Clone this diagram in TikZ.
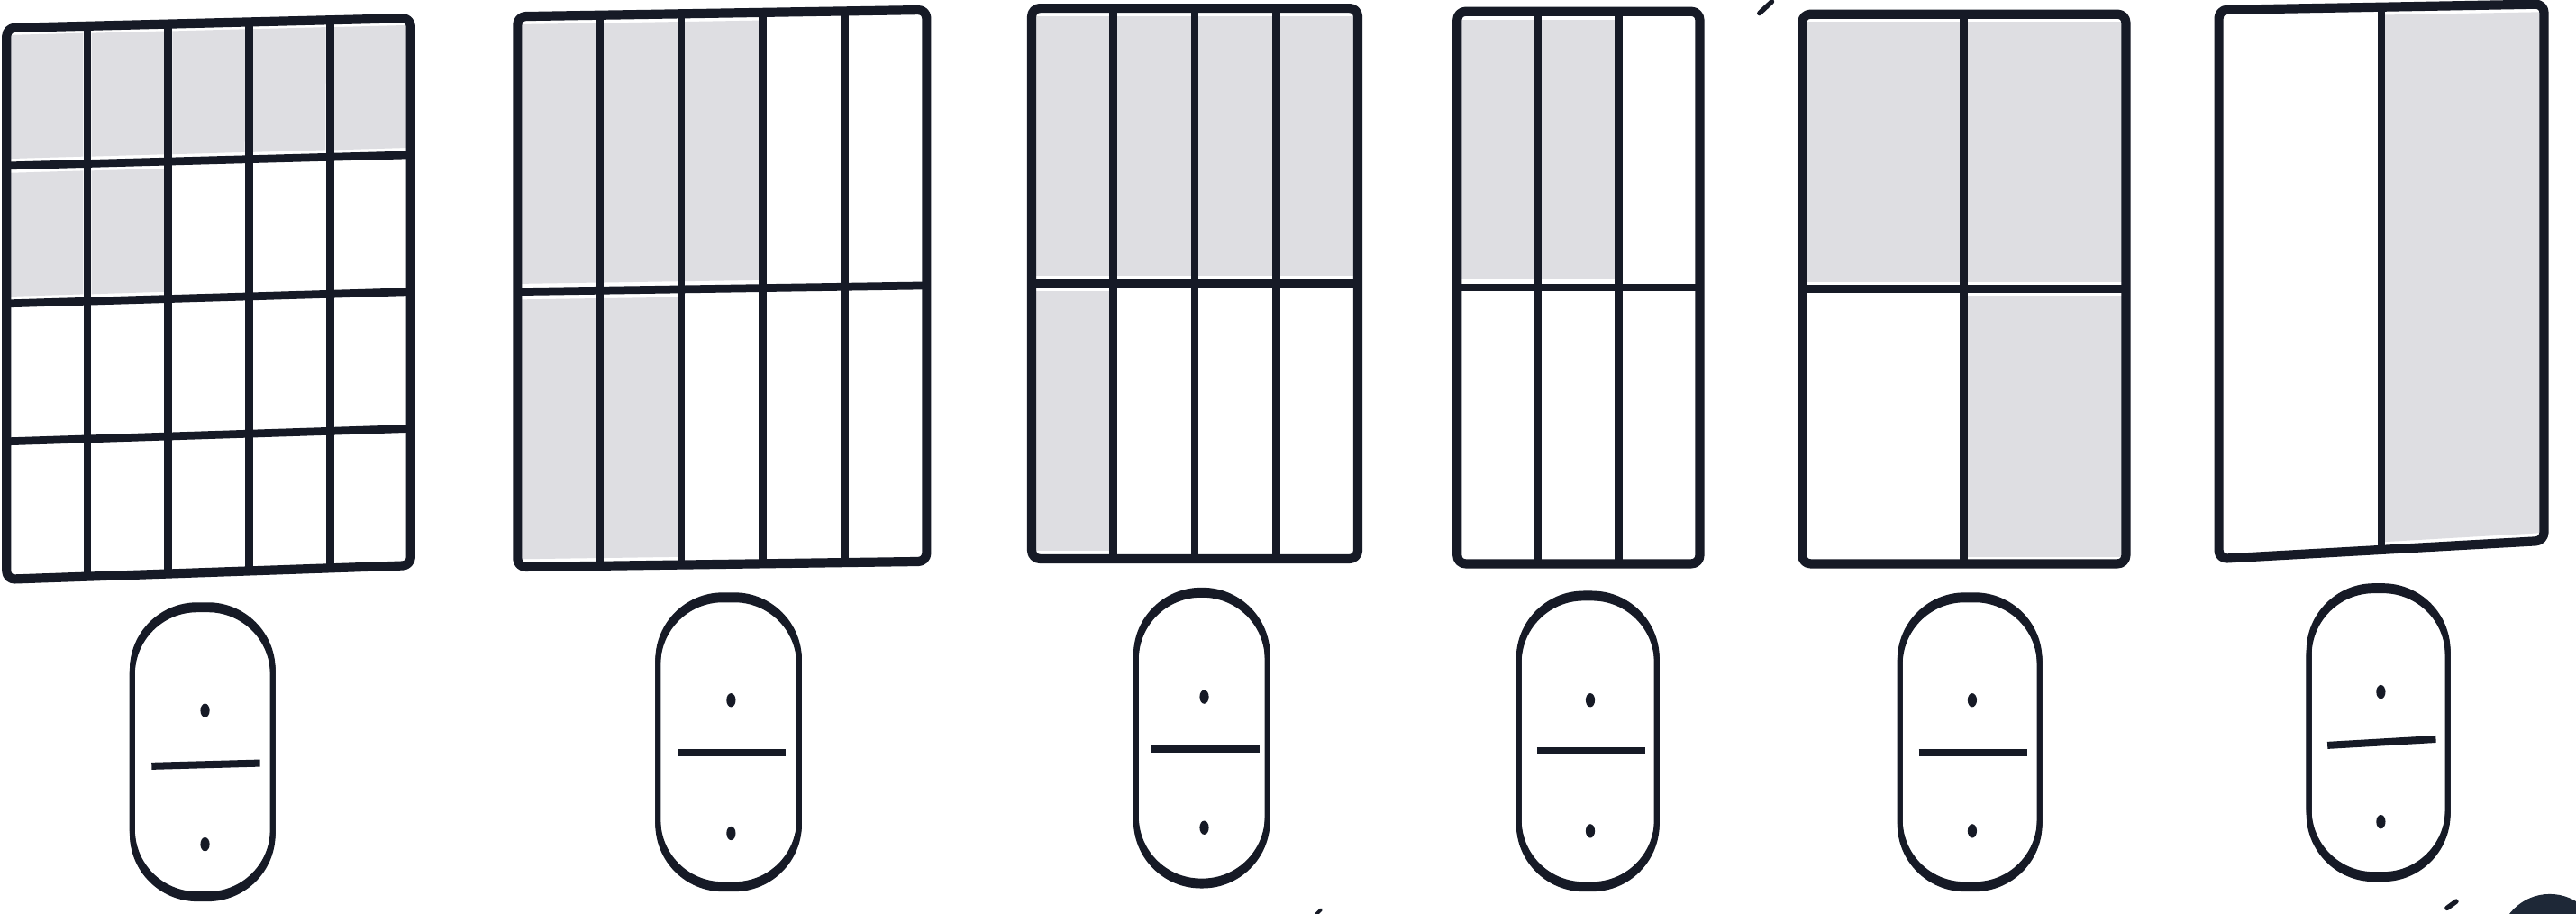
\documentclass[tikz,border=0pt]{standalone}
\usetikzlibrary{calc}
\definecolor{ink}{RGB}{22,26,38}
\definecolor{shade}{RGB}{222,222,226}
\definecolor{blob}{RGB}{30,40,55}
\tikzset{
  outerline/.style={draw=ink, line width=5.6pt, rounded corners=5pt, line join=round},
  innerline/.style={draw=ink, line width=4.8pt, line cap=round},
  shadefill/.style={fill=shade},
  oval/.style={draw=ink, line width=3.2pt, rectangle, rounded corners=39.5pt, inner sep=0pt, outer sep=0pt},
  ovalecho/.style={draw=ink, line width=3.2pt, rounded corners=39.5pt},
  barline/.style={draw=ink, line width=4.4pt},
  dotmark/.style={fill=ink},
  speck/.style={draw=ink, line width=3pt, line cap=round},
}
% grid coordinates: name, BL, BR, TR, TL, ncols, nrows
\newcommand{\mkgrid}[7]{%
  \coordinate (#1BL) at #2;
  \coordinate (#1BR) at #3;
  \coordinate (#1TR) at #4;
  \coordinate (#1TL) at #5;
  \foreach \i in {0,...,#6}{
    \coordinate (#1b\i) at ($(#1BL)!\i/#6!(#1BR)$);
    \coordinate (#1t\i) at ($(#1TL)!\i/#6!(#1TR)$);
    \foreach \j in {0,...,#7}{
      \coordinate (#1-\i-\j) at ($(#1b\i)!\j/#7!(#1t\i)$);
    }
  }
}
% shaded cell: name, column, row (row 0 = bottom)
\newcommand{\fcell}[3]{%
  \pgfmathtruncatemacro{\cellia}{#2+1}%
  \pgfmathtruncatemacro{\cellja}{#3+1}%
  \fill[shadefill] ($(#1-#2-#3)!5pt!(#1-\cellia-\cellja)$) -- ($(#1-\cellia-#3)!5pt!(#1-#2-\cellja)$)
    -- ($(#1-\cellia-\cellja)!5pt!(#1-#2-#3)$) -- ($(#1-#2-\cellja)!5pt!(#1-\cellia-#3)$) -- cycle;
}
% answer slot: name, cx, cy, w, h, lineY, dotTopY, dotBotY, tilt
\newcommand{\fracslot}[9]{%
  \node[oval, minimum width=#4pt, minimum height=#5pt] (#1) at (#2,#3) {};
  \draw[ovalecho] ($(#1.south west)+(0,1.4)$) rectangle ($(#1.north east)+(0,1.4)$);
  \draw[ovalecho] ($(#1.south west)+(0,-1.4)$) rectangle ($(#1.north east)+(0,-1.4)$);
  \fill[dotmark] ($(#1.center)+(1.5,#7-#3)$) ellipse (2.8 and 4.2);
  \fill[dotmark] ($(#1.center)+(1.5,#8-#3)$) ellipse (2.8 and 4.2);
  \draw[barline] ($(#1.center)+(-31,#6-#3+#9)$) -- ($(#1.center)+(35,#6-#3-#9)$);
}
\begin{document}
\begin{tikzpicture}[x=1pt, y=-1pt]
\fill[white] (0,0) rectangle (1568,556);
\useasboundingbox (0,0) rectangle (1568,556);

% ---------- figure 1 : 5 x 4 ----------
\mkgrid{A}{(4,352.5)}{(250,344)}{(250,11)}{(4,17)}{5}{4}
\foreach \c in {0,...,4} {\fcell{A}{\c}{3}}
\fcell{A}{0}{2}
\fcell{A}{1}{2}
\foreach \i in {1,2,3,4} \draw[innerline] (Ab\i) -- (At\i);
\foreach \j in {1,2,3} \draw[innerline] (A-0-\j) -- (A-5-\j);
\draw[outerline] (ABL) -- (ABR) -- (ATR) -- (ATL) -- cycle;

% ---------- figure 2 : 5 x 2 ----------
\mkgrid{B}{(315,345)}{(564,341.6)}{(564,6)}{(315,10)}{5}{2}
\foreach \c in {0,1,2} {\fcell{B}{\c}{1}}
\fcell{B}{0}{0}
\fcell{B}{1}{0}
\foreach \i in {1,2,3,4} \draw[innerline] (Bb\i) -- (Bt\i);
\draw[innerline] (B-0-1) -- (B-5-1);
\draw[outerline] (BBL) -- (BBR) -- (BTR) -- (BTL) -- cycle;

% ---------- figure 3 : 4 x 2 ----------
\mkgrid{C}{(628,340)}{(826.5,340)}{(826.5,5)}{(628,5)}{4}{2}
\foreach \c in {0,...,3} {\fcell{C}{\c}{1}}
\fcell{C}{0}{0}
\foreach \i in {1,2,3} \draw[innerline] (Cb\i) -- (Ct\i);
\draw[innerline] (C-0-1) -- (C-4-1);
\draw[outerline] (CBL) -- (CBR) -- (CTR) -- (CTL) -- cycle;

% ---------- figure 4 : 3 x 2 ----------
\mkgrid{D}{(887,343)}{(1034.6,343)}{(1034.6,7)}{(887,7)}{3}{2}
\fcell{D}{0}{1}
\fcell{D}{1}{1}
\foreach \i in {1,2} \draw[innerline] (Db\i) -- (Dt\i);
\draw[innerline] (D-0-1) -- (D-3-1);
\draw[outerline] (DBL) -- (DBR) -- (DTR) -- (DTL) -- cycle;

% ---------- figure 5 : 2 x 2 ----------
\mkgrid{E}{(1097,343)}{(1294,343)}{(1294,8.6)}{(1097,8.6)}{2}{2}
\fcell{E}{0}{1}
\fcell{E}{1}{1}
\fcell{E}{1}{0}
\draw[innerline] (Eb1) -- (Et1);
\draw[innerline] (E-0-1) -- (E-2-1);
\draw[outerline] (EBL) -- (EBR) -- (ETR) -- (ETL) -- cycle;

% ---------- figure 6 : 2 x 1 ----------
\mkgrid{F}{(1350.6,340)}{(1548.5,329)}{(1548.5,2.5)}{(1350.6,6)}{2}{1}
\fcell{F}{1}{0}
\draw[innerline] (Fb1) -- (Ft1);
\draw[outerline] (FBL) -- (FBR) -- (FTR) -- (FTL) -- cycle;

% ---------- answer slots ----------
\fracslot{o1}{123.3}{457.5}{85.5}{176}{465.2}{432.3}{513.7}{0.9}
\fracslot{o2}{443.5}{451.5}{86}{176}{458}{426}{507}{0}
\fracslot{o3}{731.5}{449}{80}{177}{455.7}{424}{503.6}{0}
\fracslot{o4}{966.5}{451}{84}{177}{457}{426}{505.6}{0}
\fracslot{o5}{1199}{451.5}{85}{176}{458}{426}{505.6}{0}
\fracslot{o6}{1447.7}{445.7}{84.5}{175.5}{451.6}{421}{500}{1.9}

% ---------- scan specks ----------
\coordinate (s1a) at (1078.5,1);
\coordinate (s1b) at (1071,8);
\draw[speck] (s1a) -- (s1b);
\coordinate (s2a) at (801.5,556);
\coordinate (s2b) at (804,553.5);
\draw[speck, line width=2pt] (s2a) -- (s2b);
\coordinate (s3a) at (1489.5,552.5);
\coordinate (s3b) at (1495,548.5);
\draw[speck] (s3a) -- (s3b);
\fill[blob] (1552,575) circle (31);
\end{tikzpicture}
\end{document}
